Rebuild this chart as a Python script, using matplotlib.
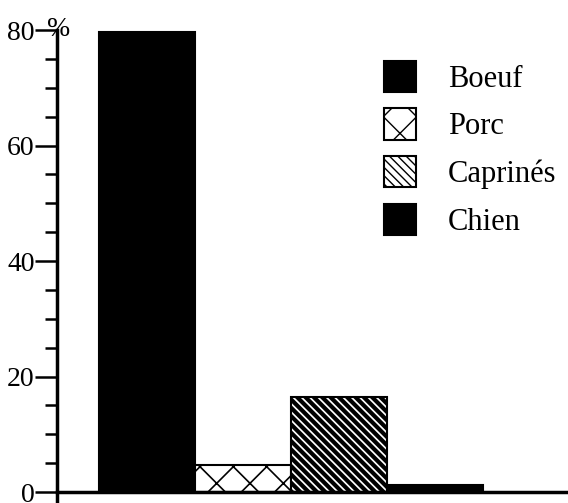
import matplotlib
matplotlib.use("Agg")
import matplotlib.pyplot as plt
from matplotlib.patches import Patch
from matplotlib.ticker import MultipleLocator

categories = ["Boeuf", "Porc", "Caprinés", "Chien"]
values = [79.6, 4.7, 16.4, 1.2]
ytick_values = [0, 20, 40, 60, 80]

colors = ["black", "white", "white", "black"]
hatches = [None, "x", "\\\\\\\\", None]
hatch_lw = [1.0, 1.2, 3.0, 1.0]

plt.rcParams["font.family"] = ["Liberation Serif", "DejaVu Serif"]

fig = plt.figure(figsize=(5.68, 5.03), dpi=100)
ax = fig.add_axes([57 / 568, 0, 1 - 57 / 568, 473 / 503])

x = list(range(len(categories)))
bars = []
for xi, v, c, h, hl in zip(x, values, colors, hatches, hatch_lw):
    with plt.rc_context({"hatch.linewidth": hl}):
        b = ax.bar(xi, v, width=1.0, color=c, edgecolor="black",
                   linewidth=1.5, align="center", hatch=h)
    bars.append(b)

ax.set_xlim(-0.94, 4.39)
ax.set_ylim(-1.9, 80)

for s in ["top", "right"]:
    ax.spines[s].set_visible(False)
ax.spines["bottom"].set_position(("data", 0))
ax.spines["left"].set_linewidth(2.5)
ax.spines["bottom"].set_linewidth(2.5)

ax.set_xticks([])
ax.set_yticks(ytick_values)
ax.set_yticklabels([str(v) for v in ytick_values], fontsize=20)
ax.yaxis.set_minor_locator(MultipleLocator(5))
ax.tick_params(axis="y", which="major", length=16, width=1.8, pad=0)
ax.tick_params(axis="y", which="minor", length=8.5, width=1.8)

ax.annotate("%", xy=(0.0, 80), xycoords=ax.get_yaxis_transform(),
            xytext=(1, 0), textcoords="offset points", fontsize=20,
            ha="center", va="center")

handles = []
for c, h, hl in zip(colors, hatches, hatch_lw):
    with plt.rc_context({"hatch.linewidth": hl}):
        handles.append(Patch(facecolor=c, edgecolor="black", hatch=h,
                             linewidth=1.5))
leg = ax.legend(handles, categories, loc="upper left",
                bbox_to_anchor=(0.64, 0.935), frameon=False, fontsize=22,
                handlelength=1.05, handleheight=1.2, labelspacing=0.48,
                handletextpad=1.05, borderaxespad=0, borderpad=0)

fig.savefig("out.png", dpi=100)
